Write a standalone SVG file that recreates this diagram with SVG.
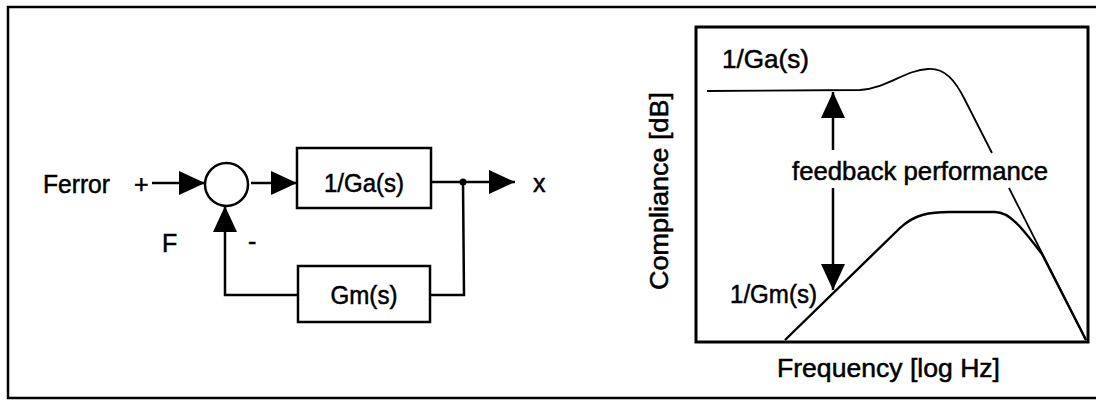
<svg xmlns="http://www.w3.org/2000/svg" width="1096" height="405" viewBox="0 0 1096 405">
<defs>
<style>
.t{font-family:"Liberation Sans",Arial,sans-serif;font-size:25px;fill:#000;stroke:#000;stroke-width:0.5}
.box{fill:#fff;stroke:#000;stroke-width:2.5}
.ln{fill:none;stroke:#000;stroke-width:2.5}
.cv{fill:none;stroke:#000;stroke-width:1.8}
</style>
<marker id="ah" viewBox="0 0 26 24" refX="26" refY="12" markerWidth="26" markerHeight="24" markerUnits="userSpaceOnUse" orient="auto">
<path d="M0,0 L26,12 L0,24 Z" fill="#000"/>
</marker>
</defs>
<rect width="1096" height="405" fill="#fff"/>
<path d="M1096,7 L8,7 L8,398 L1096,398" fill="none" stroke="#000" stroke-width="2.5"/>

<g id="label-ferror"><text class="t" x="43" y="193" textLength="67" lengthAdjust="spacingAndGlyphs">Ferror</text><text class="t" x="134" y="193">+</text></g>
<g id="sum"><circle cx="226.5" cy="184.5" r="21.5" fill="#fff" stroke="#000" stroke-width="2.5"/></g>
<g id="ga"><rect class="box" x="297" y="148" width="134" height="60"/><text class="t" x="364" y="192" text-anchor="middle" textLength="80" lengthAdjust="spacingAndGlyphs">1/Ga(s)</text></g>
<g id="gm"><rect class="box" x="298" y="266" width="132" height="56"/><text class="t" x="364" y="304" text-anchor="middle" textLength="67" lengthAdjust="spacingAndGlyphs">Gm(s)</text></g>
<g id="out-x"><text class="t" x="533" y="192">x</text></g>
<g id="label-f"><text class="t" x="162" y="252">F</text><text class="t" x="248" y="250">-</text></g>

<g id="connectors">
<line class="ln" x1="152" y1="183" x2="205" y2="183" marker-end="url(#ah)"/>
<line class="ln" x1="251" y1="183" x2="297" y2="183" marker-end="url(#ah)"/>
<line class="ln" x1="431" y1="182" x2="515" y2="182" marker-end="url(#ah)"/>
<circle cx="463" cy="182" r="3.5" fill="#000"/>
<polyline class="ln" points="463,182 464,295 430,295"/>
<polyline class="ln" points="298,295 225,295 225,206" marker-end="url(#ah)"/>
</g>

<g id="plot">
<rect x="696" y="27" width="392" height="315" fill="none" stroke="#000" stroke-width="3"/>
<text class="t" x="722" y="68" textLength="87" lengthAdjust="spacingAndGlyphs">1/Ga(s)</text>
<path class="cv" d="M707,91 L860,90 C888,88 905,70 928,69 C945,68 955,80 965,100 L992,153"/>
<path class="cv" d="M1009,188 L1086,340"/>
<path class="cv" style="stroke-width:2.4" d="M785,340 L900,228 C915,214 930,212 950,212 L995,212 C1010,212 1022,228 1042,254 L1086,340"/>
<text class="t" x="792" y="180" textLength="256" lengthAdjust="spacingAndGlyphs">feedback performance</text>
<text class="t" x="730" y="303" textLength="87" lengthAdjust="spacingAndGlyphs">1/Gm(s)</text>
<text class="t" transform="translate(668,191) rotate(-90)" text-anchor="middle" textLength="198" lengthAdjust="spacingAndGlyphs">Compliance [dB]</text>
<text class="t" x="777" y="377" textLength="223" lengthAdjust="spacingAndGlyphs">Frequency [log Hz]</text>
</g>

<g id="plot-arrows">
<line class="ln" x1="833" y1="150" x2="833" y2="92" marker-end="url(#ah)"/>
<line class="ln" x1="833" y1="188" x2="833" y2="290" marker-end="url(#ah)"/>
</g>
</svg>
